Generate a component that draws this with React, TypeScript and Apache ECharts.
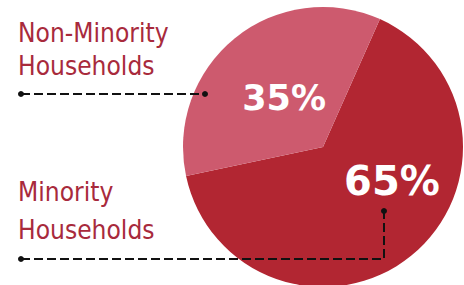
import React, { useEffect, useRef } from "react";
import * as echarts from "echarts";

const categories = ["Minority Households", "Non-Minority Households"];
const shares = [65, 35];
const sliceColors = ["#b22632", "#cd5a6e"];
const textColor = "#a82a3c";

export default function App() {
  const ref = useRef<HTMLDivElement>(null);
  useEffect(() => {
    if (!ref.current) return;
    const chart = echarts.init(ref.current, null, { renderer: "svg" });
    const labelShift = [
      { dx: 23, dy: -23 },
      { dx: 7, dy: 8 },
    ];
    const nameText = (t: string, x: number, y: number) => ({
      type: "text",
      x,
      y,
      scaleY: 1.12,
      z: 100,
      style: {
        text: t,
        x: 0,
        y: 0,
        fill: textColor,
        font: "23.5px 'DejaVu Sans'",
        textAlign: "left",
        textVerticalAlign: "middle",
      },
    });
    const [minWords0, minWords1] = [categories[0].split(" ")[0], categories[0].split(" ")[1]];
    const [nonWords0, nonWords1] = [categories[1].split(" ")[0], categories[1].split(" ")[1]];
    const lineStyle = { stroke: "#111", lineWidth: 2, lineDash: [9, 4], fill: null };
    const dot = (cx: number, cy: number) => ({
      type: "circle",
      z: 101,
      shape: { cx, cy, r: 3 },
      style: { fill: "#111" },
    });
    chart.setOption({
      animation: false,
      series: [
        {
          type: "pie",
          center: [323, 147],
          radius: 140,
          startAngle: 66,
          clockwise: true,
          silent: true,
          data: categories.map((name, i) => ({
            name,
            value: shares[i],
            itemStyle: { color: sliceColors[i] },
          })),
          label: {
            show: true,
            position: "inside",
            formatter: "{c}%",
            color: "#fff",
            fontFamily: "DejaVu Sans",
            fontWeight: "bold",
          },
          labelLine: { show: false },
          labelLayout: (params: any) => ({
            dx: labelShift[params.dataIndex].dx,
            dy: labelShift[params.dataIndex].dy,
            fontSize: params.dataIndex === 0 ? 40 : 35,
          }),
        },
      ],
      graphic: [
        nameText(nonWords0, 18, 33.5),
        nameText(nonWords1, 18, 66.5),
        nameText(minWords0, 18, 192),
        nameText(minWords1, 18, 230),
        {
          type: "polyline",
          z: 100,
          shape: { points: [[21, 94], [205, 94]] },
          style: lineStyle,
        },
        {
          type: "polyline",
          z: 100,
          shape: { points: [[21, 259], [384, 259], [384, 211]] },
          style: lineStyle,
        },
        dot(21, 94),
        dot(205, 94),
        dot(21, 259),
        dot(384, 211),
      ],
    });
    return () => chart.dispose();
  }, []);
  return (
    <div
      ref={ref}
      style={{ position: "fixed", left: 0, top: 0, width: 464, height: 285, background: "#fff" }}
    />
  );
}
